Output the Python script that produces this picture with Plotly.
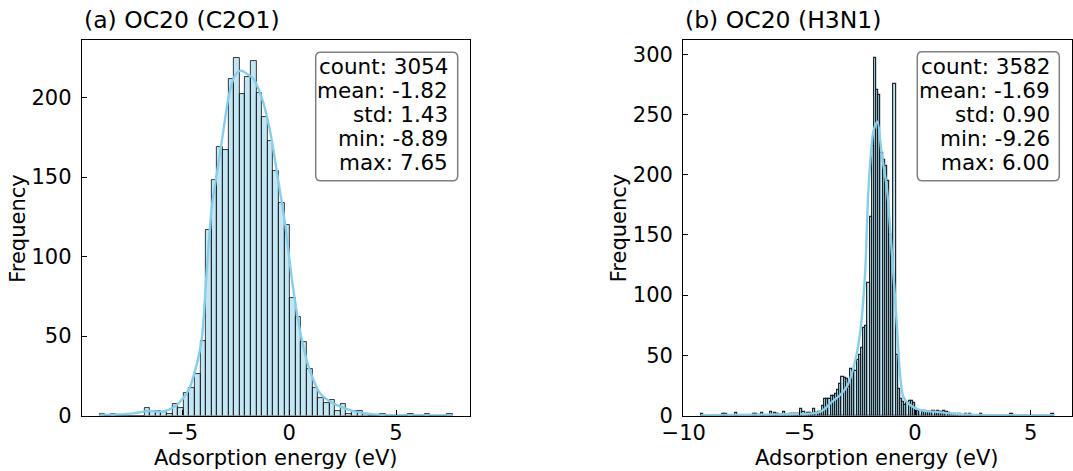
import plotly.graph_objects as go

W, H = 1073, 471

# ---------------- data ----------------
left_title = "(a) OC20 (C2O1)"
right_title = "(b) OC20 (H3N1)"
x_label = "Adsorption energy (eV)"
y_label = "Frequency"

left_range = (-8.89, 7.65)
left_counts = [1, 0, 1, 0, 0, 0, 0, 0, 5, 3,
               3, 2, 1, 7, 5, 14, 17, 26, 47, 117,
               148, 169, 167, 212, 225, 202, 213, 223, 203, 188,
               173, 154, 134, 120, 74, 62, 46, 29, 17, 11,
               8, 10, 3, 7, 1, 3, 3, 1, 0, 0,
               1, 0, 0, 0, 0, 1, 0, 0, 1, 0,
               0, 0, 1]

right_range = (-9.26, 6.00)
right_counts = [1, 0, 0, 0, 0, 0, 0, 0, 0, 0, 1, 1, 0, 0, 0, 0, 2, 0, 0, 0,
                0, 0, 0, 0, 1, 1, 0, 0, 2, 0, 0, 0, 3, 0, 2, 1, 0, 0, 3, 0,
                0, 1, 1, 1, 1, 1, 5, 3, 0, 2, 2, 1, 5, 2, 3, 3, 8, 14, 14, 14,
                16, 16, 18, 21, 26, 32, 31, 30, 24, 39, 38, 37, 46, 50, 56, 73, 74, 110, 165, 224,
                297, 270, 266, 218, 212, 207, 195, 150, 135, 275, 50, 22, 14, 11, 9, 10, 12, 12, 10, 5,
                4, 4, 3, 4, 3, 3, 3, 4, 3, 4, 3, 3, 4, 3, 2, 1, 0, 1, 0, 1,
                0, 0, 1, 0, 1, 0, 0, 0, 0, 1, 0, 0, 0, 0, 0, 0, 0, 0, 0, 0,
                0, 0, 0, 1, 0, 0, 0, 0, 0, 0, 0, 0, 0, 0, 0, 0, 0, 0, 0, 0,
                0, 0, 1]

left_kde_x = [-8.89, -8.0, -7.3, -6.9, -6.55, -6.2, -5.9, -5.43, -4.96, -4.65, -4.34, -4.1,
              -3.87, -3.63, -3.37, -3.09, -2.82, -2.54, -2.26, -2.0, -1.69, -1.29, -0.9,
              -0.52, -0.2, 0.19, 0.58, 0.97, 1.44, 2.0, 2.6, 3.1, 3.5, 4.25, 5.5, 7.65]
left_kde_y = [0.4, 0.6, 1.3, 2.3, 2.8, 2.5, 2.6, 5, 11, 18, 32, 48,
              90, 131, 154, 179, 202, 214, 217, 215, 212, 200, 179,
              148, 121, 79, 48, 28, 14, 8, 4.5, 2.4, 1.4, 0.4, 0.2, 0.1]

right_kde_x = [-9.26, -8.0, -7.0, -6.0, -5.3, -4.83, -4.25, -3.96, -3.67, -3.24, -2.95, -2.67,
               -2.38, -2.16, -2.02, -1.80, -1.63, -1.44, -1.22, -1.08, -0.94, -0.79, -0.65,
               -0.51, -0.22, 0.22, 0.79, 1.51, 2.67, 4.0, 6.0]
right_kde_y = [0.3, 0.4, 0.6, 0.9, 1.1, 1.3, 2.2, 4.5, 10, 17, 24, 39,
               68, 118, 186, 236, 244, 217, 189, 156, 118, 76, 35,
               15.6, 8.7, 4.5, 3.2, 1.8, 0.5, 0.3, 0.2]

stat_names = ["count", "mean", "std", "min", "max"]
left_stats = [3054, -1.82, 1.43, -8.89, 7.65]
right_stats = [3582, -1.69, 0.90, -9.26, 6.00]

left_xticks = [-5, 0, 5]
right_xticks = [-10, -5, 0, 5]
left_yticks = [0, 50, 100, 150, 200]
right_yticks = [0, 50, 100, 150, 200, 250, 300]

# ---------------- styling / layout ----------------
FONT = "DejaVu Sans"
SKY = "#87CEEB"
BAR_FILL = "rgba(135,206,235,0.5)"

AX_TOP, AX_BOT = 40.0, 415.5
L_PX = (81.8, 470.3)
R_PX = (683.2, 1071.5)


def px_x(p):
    return p / W


def px_y(p):
    return (H - p) / H


def bins(rng, counts):
    lo, hi = rng
    n = len(counts)
    w = (hi - lo) / n
    centers = [lo + (i + 0.5) * w for i in range(n)]
    return centers, w


def axis_range(rng):
    lo, hi = rng
    m = 0.05 * (hi - lo)
    return [lo - m, hi + m]


fig = go.Figure()

for idx, (rng, counts, kx, ky, lw, lc) in enumerate([
        (left_range, left_counts, left_kde_x, left_kde_y, 0.85, "rgba(0,0,0,0.9)"),
        (right_range, right_counts, right_kde_x, right_kde_y, 1.2, "rgba(20,28,32,0.95)")]):
    xa = "x" if idx == 0 else "x2"
    ya = "y" if idx == 0 else "y2"
    centers, w = bins(rng, counts)
    fig.add_trace(go.Bar(
        x=centers, y=counts, width=[w] * len(counts),
        marker=dict(color=BAR_FILL, line=dict(color=lc, width=lw)),
        xaxis=xa, yaxis=ya, showlegend=False, hoverinfo="skip"))
    fig.add_trace(go.Scatter(
        x=kx, y=ky, mode="lines", line=dict(color=SKY, width=2.4, shape="spline", smoothing=0.8),
        xaxis=xa, yaxis=ya, showlegend=False, hoverinfo="skip"))

axis_common = dict(
    showgrid=False, zeroline=False, showline=True, linecolor="black", linewidth=1.1,
    mirror=True, ticks="inside", ticklen=5, tickwidth=1.1, tickcolor="black",
    automargin=False,
    tickfont=dict(family=FONT, size=21, color="black"),
)

fig.update_layout(
    width=W, height=H, margin=dict(l=0, r=0, t=0, b=0, autoexpand=False),
    paper_bgcolor="white", plot_bgcolor="white", bargap=0,
    font=dict(family=FONT, color="black"),
    xaxis=dict(domain=[px_x(L_PX[0]), px_x(L_PX[1])], range=axis_range(left_range),
               tickvals=left_xticks, ticklabelstandoff=-2, anchor="y", **axis_common),
    yaxis=dict(domain=[px_y(AX_BOT), px_y(AX_TOP)], range=[0, 1.05 * max(left_counts)],
               tickvals=left_yticks, ticklabelstandoff=5, anchor="x", **axis_common),
    xaxis2=dict(domain=[px_x(R_PX[0]), px_x(R_PX[1])], range=axis_range(right_range),
                tickvals=right_xticks, ticklabelstandoff=-2, anchor="y2", **axis_common),
    yaxis2=dict(domain=[px_y(AX_BOT), px_y(AX_TOP)], range=[0, 1.05 * max(right_counts)],
                tickvals=right_yticks, ticklabelstandoff=5, anchor="x2", **axis_common),
)


def fmt(name, v):
    return f"{name}: {v}" if name == "count" else f"{name}: {v:.2f}"


def rounded_box(x0, y0, x1, y1, r):
    rx, ry = r / W, r / H
    X0, X1 = px_x(x0), px_x(x1)
    Yt, Yb = px_y(y0), px_y(y1)
    return (f"M {X0+rx},{Yt} L {X1-rx},{Yt} Q {X1},{Yt} {X1},{Yt-ry} "
            f"L {X1},{Yb+ry} Q {X1},{Yb} {X1-rx},{Yb} "
            f"L {X0+rx},{Yb} Q {X0},{Yb} {X0},{Yb+ry} "
            f"L {X0},{Yt-ry} Q {X0},{Yt} {X0+rx},{Yt} Z")


annotations = []
shapes = []
line_ys = [66.7, 90.6, 114.5, 138.4, 162.3]
for (ax_px, stats, box, title) in [
        (L_PX, left_stats, (315.7, 52.3, 457.7, 180.7), left_title),
        (R_PX, right_stats, (917.3, 51.7, 1059.3, 180.7), right_title)]:
    shapes.append(dict(type="path", xref="paper", yref="paper",
                       path=rounded_box(*box, 5),
                       line=dict(color="#7f7f7f", width=1.5), fillcolor="white", layer="above"))
    for name, v, ly in zip(stat_names, stats, line_ys):
        annotations.append(dict(xref="paper", yref="paper", x=px_x(box[2] - 7.5), y=px_y(ly),
                                xanchor="right", yanchor="middle", showarrow=False,
                                text=fmt(name, v),
                                font=dict(family=FONT, size=21.5, color="black")))
    annotations.append(dict(xref="paper", yref="paper", x=px_x(ax_px[0]), y=px_y(20),
                            xanchor="left", yanchor="middle", showarrow=False, text=title,
                            font=dict(family=FONT, size=23.5, color="black")))
    annotations.append(dict(xref="paper", yref="paper", x=px_x((ax_px[0] + ax_px[1]) / 2), y=px_y(458),
                            xanchor="center", yanchor="middle", showarrow=False, text=x_label,
                            font=dict(family=FONT, size=21, color="black")))
    annotations.append(dict(xref="paper", yref="paper", x=px_x(ax_px[0] - 64), y=px_y(228),
                            xanchor="center", yanchor="middle", showarrow=False, text=y_label,
                            textangle=-90, font=dict(family=FONT, size=21, color="black")))

fig.update_layout(annotations=annotations, shapes=shapes)

fig.write_html("out.html", config={"displayModeBar": False},
               post_script="document.body.style.margin='0';document.body.style.overflow='hidden';")
